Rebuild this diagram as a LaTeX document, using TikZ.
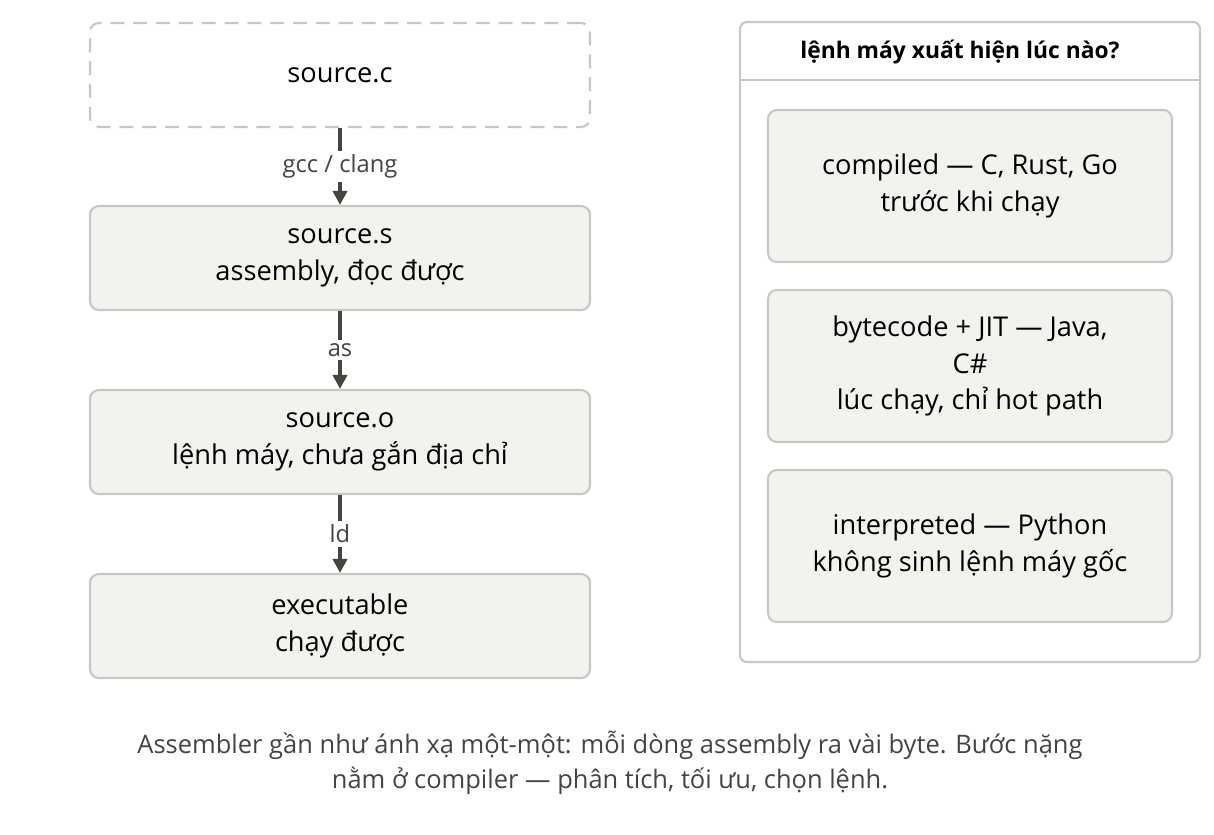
\documentclass[tikz,border=0pt]{standalone}
\usepackage{fontspec}
\setmainfont{Open Sans}
\usetikzlibrary{positioning,arrows.meta}
\definecolor{boxfill}{HTML}{F3F2EE}
\definecolor{boxline}{HTML}{C9C7C1}
\definecolor{inkgray}{HTML}{45443F}
\tikzset{
		>={Triangle[length=8pt,width=8pt]},
		stage/.style={draw=boxline,fill=boxfill,line width=1.2pt,rounded corners=5pt,
			minimum width=10cm,minimum height=2.08cm,align=center,
			font=\fontsize{15.5}{21}\selectfont,text=black},
		kind/.style={stage,minimum width=8.08cm,minimum height=3.04cm},
		toollabel/.style={fill=white,inner sep=2pt,font=\fontsize{13.5}{15}\selectfont,text=inkgray}
	}
\begin{document}
\begin{tikzpicture}[x=0.02cm,y=-0.02cm]
          \useasboundingbox (0,0) rectangle (1214,835);

          % pipeline
          \node[stage,fill=white,dashed,dash pattern=on 8pt off 5pt] (src) at (340,75) {source.c};
          \node[stage] (asm) at (340,258) {source.s\\assembly, đọc được};
          \node[stage] (obj) at (340,442) {source.o\\lệnh máy, chưa gắn địa chỉ};
          \node[stage] (exe) at (340,626) {executable\\chạy được};

          \draw[->,inkgray,line width=2pt] (src) -- node[toollabel]{gcc / clang} (asm);
          \draw[->,inkgray,line width=2pt] (asm) -- node[toollabel]{as} (obj);
          \draw[->,inkgray,line width=2pt] (obj) -- node[toollabel]{ld} (exe);

          % side panel
          \draw[boxline,line width=1.2pt,rounded corners=4pt] (740,22) rectangle (1200,662);
          \coordinate (hl) at (740,80);
          \coordinate (hr) at (1200,80);
          \draw[boxline,line width=1.2pt] (hl) -- (hr);
          \node[font=\bfseries\fontsize{13}{15}\selectfont] (title) at (960,52) {lệnh máy xuất hiện lúc nào?};

          \node[kind] (comp) at (970,186) {compiled — C, Rust, Go\\trước khi chạy};
          \node[kind] (jit) at (970,366) {bytecode + JIT — Java,\\C\#\\lúc chạy, chỉ hot path};
          \node[kind] (interp) at (970,546) {interpreted — Python\\không sinh lệnh máy gốc};

          % caption
          \node[align=center,text=inkgray,font=\fontsize{14.5}{20}\selectfont] (note) at (610,763)
            {Assembler gần như ánh xạ một-một: mỗi dòng assembly ra vài byte. Bước nặng\\nằm ở compiler — phân tích, tối ưu, chọn lệnh.};
\end{tikzpicture}
\end{document}
